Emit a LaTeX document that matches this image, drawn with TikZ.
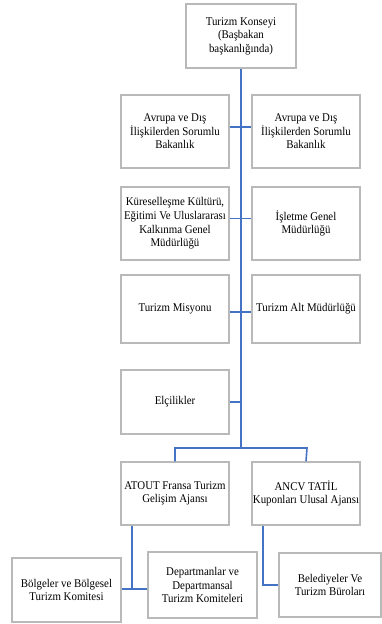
\documentclass[tikz,border=0pt]{standalone}
\usepackage{fontspec}
\setmainfont[FakeStretch=0.92]{Liberation Serif}
\definecolor{linkblue}{RGB}{68,114,196}
\definecolor{boxgray}{RGB}{185,185,185}
\tikzset{
    unit/.style={draw=boxgray, line width=1.5pt, fill=white, align=center,
        inner sep=0.5pt, font=\fontsize{11.8}{13.6}\selectfont},
    link/.style={draw=linkblue, line width=1.6pt}
}
\begin{document}
\begin{tikzpicture}[x=1pt, y=-1pt]
            \useasboundingbox (0, 0) rectangle (382, 624);

            \node[unit, minimum width=110, minimum height=64] (K) at (241, 36) {Turizm Konseyi\\(Başbakan\\başkanlığında)};

            \node[unit, minimum width=108, minimum height=73] (AL) at (175, 131.5) {Avrupa ve Dış\\İlişkilerden Sorumlu\\Bakanlık};
            \node[unit, minimum width=108, minimum height=73] (AR) at (306, 131.5) {Avrupa ve Dış\\İlişkilerden Sorumlu\\Bakanlık};
            \node[unit, minimum width=108, minimum height=73] (KU) at (175, 223.5) {Küreselleşme Kültürü,\\Eğitimi Ve Uluslararası\\Kalkınma Genel\\Müdürlüğü};
            \node[unit, minimum width=108, minimum height=73] (IG) at (306, 223.5) {İşletme Genel\\Müdürlüğü};
            \node[unit, minimum width=108, minimum height=68] (TM) at (175, 309) {Turizm Misyonu};
            \node[unit, minimum width=108, minimum height=68] (TA) at (306, 309) {Turizm Alt Müdürlüğü};
            \node[unit, minimum width=108, minimum height=64] (E) at (175, 402) {Elçilikler};

            \node[unit, minimum width=108, minimum height=63] (AT) at (175, 493.5) {ATOUT Fransa Turizm\\Gelişim Ajansı};
            \node[unit, minimum width=108, minimum height=63] (AN) at (306, 493.5) {ANCV TATİL\\Kuponları Ulusal Ajansı};

            \node[unit, minimum width=109, minimum height=64] (B) at (66.5, 590) {Bölgeler ve Bölgesel\\Turizm Komitesi};
            \node[unit, minimum width=109, minimum height=66] (D) at (202.5, 585) {Departmanlar ve\\Departmansal\\Turizm Komiteleri};
            \node[unit, minimum width=102, minimum height=64] (BT) at (330, 585) {Belediyeler Ve\\Turizm Büroları};

            \coordinate (S) at (241, 448);
            \coordinate (SL) at (175, 448);
            \coordinate (SR) at (307, 448);
            \coordinate (P) at (132, 589);
            \coordinate (Q) at (263, 585);

            \draw[link] (K) -- (S);
            \draw[link] ([yshift=4.5]AL.east) -- ([yshift=4.5]AR.west);
            \draw[link] ([yshift=5]KU.east) -- ([yshift=5]IG.west);
            \draw[link] ([yshift=-3]TM.east) -- ([yshift=-3]TA.west);
            \draw[link] (E.east) -- (E.east -| S);

            \draw[link] (AT.north) -- (SL) -- (SR) -- (AN.north);

            \draw[link] (AT.south -| P) -- (P);
            \draw[link] (B.east |- P) -- (D.west |- P);
            \draw[link] (AN.south -| Q) -- (Q) -- (BT.west |- Q);
        \end{tikzpicture}
\end{document}
